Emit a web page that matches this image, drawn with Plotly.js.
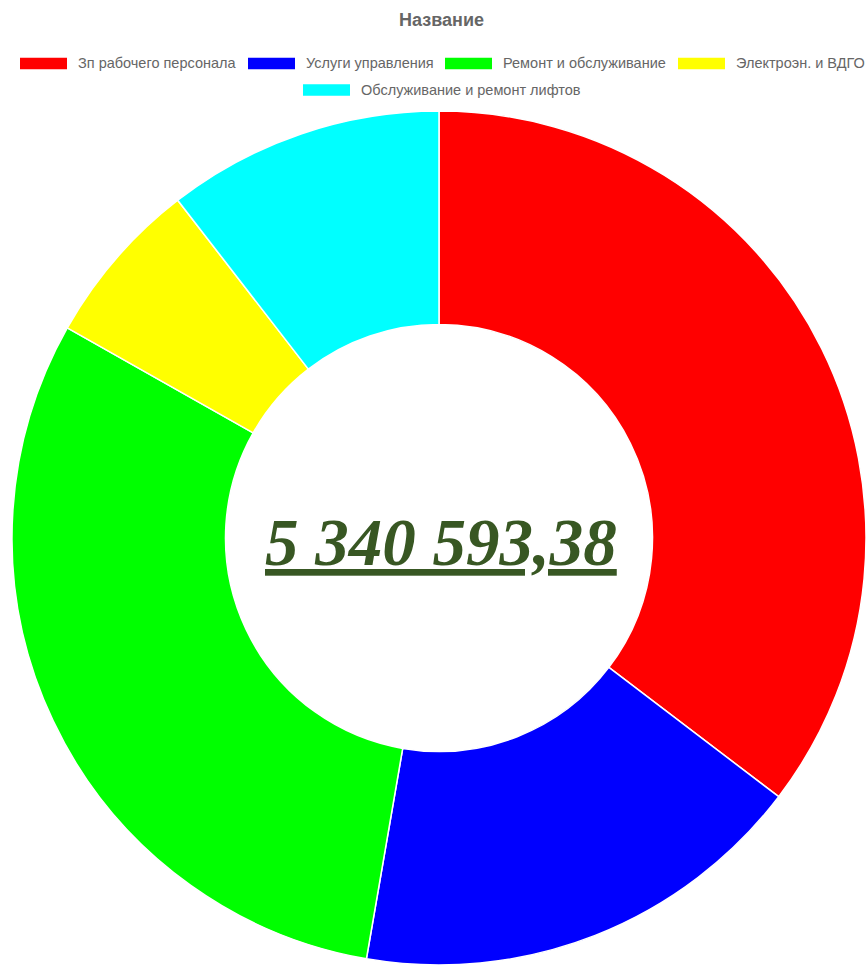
<!DOCTYPE html>
<html>
<head>
<meta charset="utf-8">
<script src="https://cdn.plot.ly/plotly-3.0.1.min.js"></script>
<style>html,body{margin:0;padding:0;background:#fff;}#chart{width:866px;height:965px;}</style>
</head>
<body>
<div id="chart"></div>
<script>
var labels = ['Зп рабочего персонала', 'Услуги управления', 'Ремонт и обслуживание', 'Электроэн. и ВДГО', 'Обслуживание и ремонт лифтов'];
var values = [1888400.00, 927100.00, 1627300.00, 338100.00, 559693.38];
var colors = ['#ff0000', '#0000ff', '#00ff00', '#ffff00', '#00ffff'];
var chartTitle = 'Название';

// legend layout (pixel positions of each legend box: left x, center y)
var legendBoxX = [20, 248, 445, 678, 303];
var legendRowY = [63.5, 63.5, 63.5, 63.5, 90];

var W = 866, H = 965;
var M = {l: 12, r: 0, t: 111, b: 0};
var PW = W - M.l - M.r, PH = H - M.t - M.b;
function px2x(p) { return (p - M.l) / PW; }
function py2y(p) { return (H - M.b - p) / PH; }

var total = values.reduce(function (a, b) { return a + b; }, 0);
function fmtRu(v) {
  var s = v.toFixed(2).split('.');
  return s[0].replace(/\B(?=(\d{3})+(?!\d))/g, ' ') + ',' + s[1];
}

var shapes = [], annotations = [];
var boxW = 47, boxH = 11.5;
labels.forEach(function (lab, i) {
  var x0 = legendBoxX[i], cy = legendRowY[i];
  shapes.push({
    type: 'rect', xref: 'paper', yref: 'paper',
    x0: px2x(x0), x1: px2x(x0 + boxW),
    y0: py2y(cy + boxH / 2), y1: py2y(cy - boxH / 2),
    fillcolor: colors[i], line: {width: 0}
  });
  annotations.push({
    xref: 'paper', yref: 'paper', x: px2x(x0 + boxW + 9), y: py2y(cy),
    xanchor: 'left', yanchor: 'middle', showarrow: false, text: lab,
    font: {family: 'Liberation Sans, Arial, sans-serif', size: 14.5, color: '#666666'}
  });
});

annotations.push({
  xref: 'paper', yref: 'paper', x: px2x(441), y: py2y(542), xanchor: 'center', yanchor: 'middle',
  showarrow: false, text: '<span style="font-weight:bold;font-style:italic;text-decoration:underline">' + fmtRu(total) + '</span>',
  font: {family: 'Liberation Serif, Times New Roman, serif', size: 67, color: '#385723', weight: 'bold', style: 'italic'}
});

var data = [{
  type: 'pie', labels: labels, values: values, hole: 0.5, sort: false,
  direction: 'clockwise', rotation: 0, textinfo: 'none', hoverinfo: 'label+value',
  marker: {colors: colors, line: {color: '#ffffff', width: 1.5}},
  showlegend: false, domain: {x: [0, 1], y: [0, 1]}
}];

var layout = {
  width: W, height: H, margin: M, paper_bgcolor: '#ffffff', plot_bgcolor: '#ffffff',
  showlegend: false,
  title: {text: chartTitle, xref: 'container', yref: 'container', x: 441.5 / W, y: 1 - 20 / H,
    xanchor: 'center', yanchor: 'middle',
    font: {family: 'Liberation Sans, Arial, sans-serif', size: 18, color: '#666666', weight: 'bold'}},
  shapes: shapes, annotations: annotations
};

Plotly.newPlot('chart', data, layout, {displayModeBar: false, staticPlot: true});
</script>
</body>
</html>
